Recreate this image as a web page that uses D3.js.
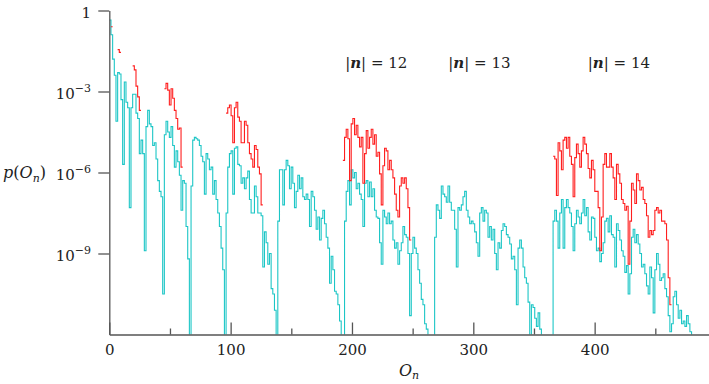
<!DOCTYPE html>
<html>
<head>
<meta charset="utf-8">
<script src="https://cdn.jsdelivr.net/npm/d3@7"></script>
<style>
  body { margin:0; background:#fff; }
  svg text { font-family:"DejaVu Serif", serif; fill:#222; }
</style>
</head>
<body>
<div id="content"></div>
<script>
// values as log10 p(O_n), one every STEP units of O_n
// (-13 means the curve drops below the bottom of the plot)
const STEP = 1.375;

const cyanLog = [
  -0.35,-0.9,-1.8,-2.4,-4.1,-2.3,-2.35,-3.3,-5.7,-2.65,
  -3.4,-3.6,-7.3,-3.6,-3.1,-3.1,-3.8,-4.0,-5.3,-4.8,
  -5.3,-8.9,-4.3,-3.7,-4.2,-4.3,-5.0,-4.9,-5.5,-6.3,
  -6.7,-6.9,-10.5,-4.6,-4.1,-4.5,-4.7,-4.3,-5.0,-5.8,
  -5.2,-5.6,-6.1,-7.4,-6.3,-6.4,-8.0,-9.2,-13,-6.5,
  -4.8,-4.7,-4.75,-4.8,-5.0,-5.4,-5.6,-6.8,
  -5.3,-5.5,-5.9,-5.8,-6.8,-6.3,-7.0,-7.5,-8.0,-8.8,
  -9.6,-13,-7.5,-5.8,-5.3,-5.2,-6.8,-5.1,-5.05,-5.7,
  -5.75,-6.4,-6.2,-6.6,-6.2,-5.95,-7.0,-7.5,-7.5,-6.5,
  -6.9,-7.5,-7.5,-7.6,-9.5,-8.2,-8.6,-9.4,-9.0,-10.3,
  -10.5,-11.1,-13,-7.8,-5.9,-5.9,-7.2,-5.9,-5.55,-5.75,
  -6.6,-5.8,-6.4,-7.3,-6.7,-6.1,-6.6,-6.2,-6.9,-7.0,
  -6.8,-7.0,-8.0,-6.7,-6.9,-7.4,-8.1,-7.65,-8.5,-7.7,
  -7.4,-7.9,-8.4,-8.8,-10.1,-9.1,-9.6,-10.4,-10.5,-10.9,
  -11.5,-13,-13,-7.8,-6.7,-6.3,-7.2,-5.9,-6.2,-6.0,
  -6.6,-6.4,-6.8,-7.0,-8.0,-6.4,-6.3,-6.9,-6.35,-6.9,
  -6.6,-7.4,-7.65,-7.7,-8.6,-9.4,-7.4,-7.65,-7.9,-7.5,
  -7.9,-7.8,-8.5,-8.8,-8.6,-9.4,-8.9,-8.6,-8.0,-8.3,
  -8.4,-9.0,-11.3,-9.0,-8.4,-8.8,-9.0,-9.6,-10.1,-10.7,
  -10.9,-11.6,-11.8,-13,-13,-13,-13,-8.4,-7.2,-7.4,
  -7.7,-6.5,-6.8,-6.9,-7.1,-6.5,-7.1,-7.4,-7.4,-8.1,
  -9.5,-7.3,-7.4,-7.2,-6.9,-6.7,-7.4,-7.65,-7.9,-7.8,
  -7.9,-8.2,-8.6,-9.1,-7.5,-7.3,-7.8,-7.4,-7.5,-8.4,
  -8.0,-8.5,-8.1,-9.0,-9.6,-8.6,-8.8,-8.15,-7.9,-8.0,
  -8.3,-8.4,-8.65,-9.2,-9.1,-9.6,-10.9,-8.8,-8.5,-8.8,
  -9.5,-9.9,-10.1,-10.8,-13,-10.9,-11.0,-11.4,-11.7,-11.2,
  -11.8,-13,-13,-13,-13,-13,-13,-13,-7.8,-7.4,
  -7.8,-8.8,-7.5,-7.0,-8.8,-7.3,-7.0,-7.3,-7.5,-8.0,
  -8.9,-7.9,-7.4,-7.65,-7.9,-7.5,-7.0,-7.6,-7.3,-8.2,
  -8.5,-7.65,-7.7,-8.4,-8.9,-8.8,-9.3,-9.0,-8.6,-7.8,
  -7.7,-8.2,-7.6,-8.3,-8.4,-9.5,-7.9,-8.15,-8.5,-8.9,
  -9.1,-9.7,-9.45,-10.5,-9.75,-8.4,-8.1,-8.6,-8.3,-8.65,
  -9.0,-9.5,-9.4,-9.75,-10.2,-10.5,-9.5,-9.9,-11.2,-9.6,
  -9.0,-9.4,-10.0,-9.9,-9.75,-10.3,-10.6,-11.3,-11.9,-11.6,
  -10.6,-10.4,-10.9,-11.4,-11.1,-11.6,-11.5,-11.7,-11.3,-11.6,
  -11.9,-13
];

// red curve only exists in pieces; "from" = index on the same STEP grid
const redSegments = [
  { from: 1,   v: [-0.6] },
  { from: 5,   v: [-1.45,-1.55] },
  { from: 14,  v: [-2.05,-2.2,-2.8,-3.2,-3.7] },
  { from: 33,  v: [-2.9,-2.7,-2.95,-3.5,-2.9,-3.25,-3.7,-4.0,-4.4,-4.35,-5.8] },
  { from: 70,  v: [-3.8,-3.6,-3.5,-3.9,-4.9,-3.6,-3.4,-3.95,-4.1,-4.9,
                   -4.9,-4.1,-4.25,-4.9,-5.3,-5.5,-5.8,-5.0,-5.15,-5.8,-6.05,-7.2] },
  { from: 140, v: [-5.55,-4.7,-4.4,-4.75,-6.3,-4.2,-4.0,-4.6,-4.25,-4.7,
                   -5.05,-4.7,-6.4,-5.3,-4.45,-5.1,-4.7,-4.4,-4.95,-4.6,
                   -5.4,-5.25,-6.05,-7.2,-5.75,-5.1,-5.2,-5.9,-5.55,-5.9,
                   -6.2,-6.8,-7.4,-7.65,-6.5,-6.2,-6.4,-6.2,-6.6,-7.3,-8.5] },
  { from: 266, v: [-5.4,-5.5,-6.85,-4.9,-5.2,-5.9,-4.8,-4.7,-5.1,-4.7,
                   -5.4,-5.7,-6.9,-5.45,-4.95,-5.3,-5.8,-5.2,-4.7,-4.95,
                   -5.3,-5.85,-6.2,-5.55,-5.9,-6.7,-6.7,-7.3,-8.9,-7.65,
                   -5.7,-5.3,-5.8,-5.8,-5.3,-5.8,-6.2,-7.0,-5.7,-6.05,
                   -6.4,-7.0,-7.15,-7.4,-7.25,-9.4,-7.8,-6.4,-6.65,-7.15,
                   -6.05,-6.3,-6.65,-6.55,-7.0,-7.15,-7.6,-8.4,-8.15,-8.3,
                   -8.15,-7.4,-7.3,-7.5,-7.4,-7.8,-7.8,-7.9,-8.5,-9.9,-10.9] }
];

const xMajor = [0, 100, 200, 300, 400];
const xMinor = [50, 150, 250, 350, 450];
const yTickExp = [0, -3, -6, -9];
const nLabels = ["12", "13", "14"];
const nLabelAt = [220, 305, 420];     // O_n where each label is centred


//////////////////// drawing area
const W = 709, H = 384;
const margin = { left:109.3, right:0.3, top:10.5, bottom:49.5 };

const x = d3.scaleLinear()
    .domain([0, 494])
    .range([margin.left, W - margin.right]);

const y = d3.scaleLog()
    .domain([1e-12, 1])
    .range([H - margin.bottom, margin.top]);

const svg = d3.select("#content")
    .append("svg")
    .attr("width", W)
    .attr("height", H);

svg.append("clipPath").attr("id", "plot")
  .append("rect")
    .attr("x", margin.left)
    .attr("y", 0)
    .attr("width", W - margin.left)
    .attr("height", H - margin.bottom);

// turn a run of log values into step points, extending the last step
function toPoints(vals, from){
    const pts = [];
    vals.forEach((v, i) => {
        const p = Math.pow(10, v);
        pts.push({ o:(from + i) * STEP, p:p });
        if (i === vals.length - 1) pts.push({ o:(from + i + 1) * STEP, p:p });
    });
    return pts;
}

const line = d3.line()
    .x(d => x(d.o))
    .y(d => y(d.p))
    .curve(d3.curveStepAfter);

const curves = svg.append("g").attr("clip-path", "url(#plot)");

curves.append("path")
    .attr("d", line(toPoints(cyanLog, 0)))
    .attr("fill", "none")
    .attr("stroke", "#1cc6c6")
    .attr("stroke-width", 1.1);

curves.selectAll(".red").data(redSegments).enter()
  .append("path")
    .attr("class", "red")
    .attr("d", s => line(toPoints(s.v, s.from)))
    .attr("fill", "none")
    .attr("stroke", "#ff1f1f")
    .attr("stroke-width", 1.1);


//////////////////// axes
const axisColor = "#555";

const yAxis = svg.append("g")
    .attr("transform", "translate(" + margin.left + ",0)")
    .attr("color", axisColor)
    .call(d3.axisLeft(y)
        .tickValues(yTickExp.map(e => Math.pow(10, e)))
        .tickSize(11)
        .tickSizeOuter(0)
        .tickFormat(() => ""));
yAxis.selectAll("path, line").attr("stroke-width", 1.3);

yTickExp.forEach(e => {
    const t = svg.append("text")
        .attr("x", 91)
        .attr("y", y(Math.pow(10, e)) + 7.5)
        .attr("text-anchor", "end")
        .attr("font-size", 15);
    if (e === 0) {
        t.text("1");
    } else {
        t.append("tspan").text("10");
        t.append("tspan").attr("dy", -7).attr("font-size", 11).text("\u2212" + (-e));
    }
});

const xAxis = svg.append("g")
    .attr("transform", "translate(0," + (H - margin.bottom) + ")")
    .attr("color", axisColor)
    .call(d3.axisBottom(x)
        .tickValues(xMajor)
        .tickSize(-12)
        .tickSizeOuter(0)
        .tickPadding(10));
xAxis.selectAll("path, line").attr("stroke-width", 1.3);
xAxis.selectAll("text")
    .attr("font-size", 15)
    .attr("font-family", "DejaVu Serif")
    .attr("fill", "#222");

svg.append("g")
    .attr("transform", "translate(0," + (H - margin.bottom) + ")")
    .attr("color", axisColor)
    .call(d3.axisBottom(x).tickValues(xMinor).tickSize(-6).tickFormat(() => ""))
    .call(g => g.select(".domain").remove())
    .selectAll("line").attr("stroke-width", 1.3);


//////////////////// labels
const xLab = svg.append("text")
    .attr("x", x(247))
    .attr("y", 376)
    .attr("text-anchor", "middle")
    .attr("font-size", 16)
    .attr("font-style", "italic");
xLab.append("tspan").text("O");
xLab.append("tspan").attr("dy", 3).attr("font-size", 11).text("n");

const yLab = svg.append("text")
    .attr("x", 3)
    .attr("y", 178)
    .attr("font-size", 16);
yLab.append("tspan").attr("font-style", "italic").text("p");
yLab.append("tspan").text("(");
yLab.append("tspan").attr("font-style", "italic").text("O");
yLab.append("tspan").attr("font-style", "italic").attr("dy", 4).attr("font-size", 11).text("n");
yLab.append("tspan").attr("dy", -4).text(")");

nLabels.forEach((lab, i) => {
    const t = svg.append("text")
        .attr("x", x(nLabelAt[i]))
        .attr("y", 68)
        .attr("text-anchor", "middle")
        .attr("font-size", 15);
    t.append("tspan").text("|");
    t.append("tspan").attr("font-weight", "bold").attr("font-style", "italic").text("n");
    t.append("tspan").text("| = " + lab);
});
</script>
</body>
</html>
